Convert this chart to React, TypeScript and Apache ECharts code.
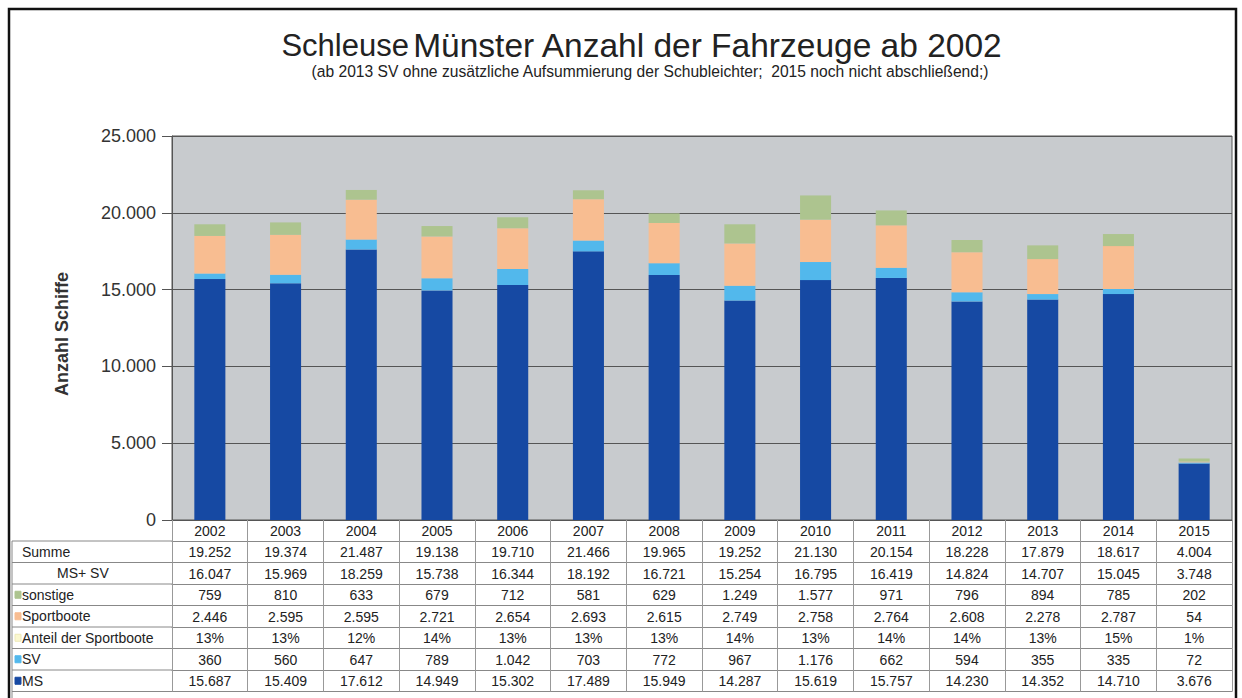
import React, { useEffect, useRef } from 'react';
import * as echarts from 'echarts';

const years = ['2002', '2003', '2004', '2005', '2006', '2007', '2008', '2009', '2010', '2011', '2012', '2013', '2014', '2015'];
const ms = [15687, 15409, 17612, 14949, 15302, 17489, 15949, 14287, 15619, 15757, 14230, 14352, 14710, 3676];
const sv = [360, 560, 647, 789, 1042, 703, 772, 967, 1176, 662, 594, 355, 335, 72];
const sportboote = [2446, 2595, 2595, 2721, 2654, 2693, 2615, 2749, 2758, 2764, 2608, 2278, 2787, 54];
const sonstige = [759, 810, 633, 679, 712, 581, 629, 1249, 1577, 971, 796, 894, 785, 202];
const anteil = [13, 13, 12, 14, 13, 13, 13, 14, 13, 14, 14, 13, 15, 1];
const summe = [19252, 19374, 21487, 19138, 19710, 21466, 19965, 19252, 21130, 20154, 18228, 17879, 18617, 4004];
const msSv = [16047, 15969, 18259, 15738, 16344, 18192, 16721, 15254, 16795, 16419, 14824, 14707, 15045, 3748];

const C_MS = '#1649a3';
const C_SV = '#52b8ec';
const C_SPORT = '#f8bd91';
const C_SONST = '#adc48f';
const C_ANTEIL = '#fbf8cf';

const fmt = (n: number) => String(n).replace(/\B(?=(\d{3})+(?!\d))/g, '.');

const tableRows = [
  { label: 'Summe', marker: null as string | null, indent: 22, values: summe.map(fmt) },
  { label: 'MS+ SV', marker: null as string | null, indent: 57, values: msSv.map(fmt) },
  { label: 'sonstige', marker: C_SONST, indent: 22, values: sonstige.map(fmt) },
  { label: 'Sportboote', marker: C_SPORT, indent: 22, values: sportboote.map(fmt) },
  { label: 'Anteil der Sportboote', marker: C_ANTEIL, indent: 22, values: anteil.map((v) => v + '%') },
  { label: 'SV', marker: C_SV, indent: 22, values: sv.map(fmt) },
  { label: 'MS', marker: C_MS, indent: 22, values: ms.map(fmt) },
];

const FONT = 'Liberation Sans, Arial, sans-serif';
const GRID_L = 172;
const GRID_R = 1232;
const GRID_T = 136;
const GRID_B = 520;
const HEAD_H = 21;
const ROW_H = 21.5;

export default function App() {
  const ref = useRef<HTMLDivElement>(null);
  useEffect(() => {
    document.body.style.margin = '0';
    const chart = echarts.init(ref.current!, undefined, { renderer: 'svg' });

    const xAxes: any[] = [
      {
        type: 'category',
        data: years,
        gridIndex: 0,
        position: 'bottom',
        offset: 0,
        axisLine: { show: true, lineStyle: { color: '#555', width: 1 } },
        axisTick: { show: true, length: HEAD_H, lineStyle: { color: '#999' } },
        axisLabel: { fontSize: 14, color: '#222', margin: 4, fontFamily: FONT },
      },
    ];
    tableRows.forEach((r, i) => {
      xAxes.push({
        type: 'category',
        data: r.values,
        gridIndex: 0,
        position: 'bottom',
        offset: HEAD_H + i * ROW_H,
        axisLine: { show: true, lineStyle: { color: '#888', width: 1 } },
        axisTick: { show: true, length: ROW_H, lineStyle: { color: '#999' } },
        axisLabel: { fontSize: 14, color: '#222', margin: 4, fontFamily: FONT, interval: 0 },
      });
    });
    xAxes.push({
      type: 'category',
      data: years.map(() => ''),
      gridIndex: 0,
      position: 'bottom',
      offset: HEAD_H + tableRows.length * ROW_H,
      axisLine: { show: true, lineStyle: { color: '#888', width: 1 } },
      axisTick: { show: false },
      axisLabel: { show: false },
    });

    const graphics: any[] = [
      {
        type: 'rect',
        shape: { x: 9, y: 9, width: 1227, height: 720 },
        style: { fill: 'none', stroke: '#111', lineWidth: 2.5 },
        silent: true,
      },
      {
        type: 'text',
        x: 642,
        y: 45,
        style: {
          text: '{a|Schleuse} {b|Münster Anzahl der Fahrzeuge ab 2002}',
          align: 'center',
          verticalAlign: 'middle',
          rich: {
            a: { fontSize: 31, fontFamily: FONT, fill: '#222' },
            b: { fontSize: 33.5, fontFamily: FONT, fill: '#222' },
          },
        },
      },
      {
        type: 'text',
        x: 650,
        y: 71,
        scaleX: 0.92,
        style: {
          text: '(ab 2013 SV ohne zusätzliche Aufsummierung der Schubleichter;  2015 noch nicht abschließend;)',
          fontSize: 17,
          fontFamily: FONT,
          fill: '#222',
          align: 'center',
          verticalAlign: 'middle',
        },
      },
      {
        type: 'text',
        x: 62,
        y: 334,
        rotation: Math.PI / 2,
        style: {
          text: 'Anzahl Schiffe',
          fontSize: 18,
          fontWeight: 'bold',
          fontFamily: FONT,
          fill: '#333',
          align: 'center',
          verticalAlign: 'middle',
        },
      },
      {
        type: 'line',
        shape: { x1: 12, y1: GRID_B + HEAD_H, x2: 12, y2: 700 },
        style: { stroke: '#888', lineWidth: 1 },
      },
    ];
    for (let i = 0; i <= tableRows.length; i++) {
      const y = GRID_B + HEAD_H + i * ROW_H;
      graphics.push({
        type: 'line',
        shape: { x1: 12, y1: y, x2: GRID_L, y2: y },
        style: { stroke: '#888', lineWidth: 1 },
      });
    }
    tableRows.forEach((r, i) => {
      const cy = GRID_B + HEAD_H + i * ROW_H + ROW_H / 2;
      if (r.marker) {
        graphics.push({
          type: 'rect',
          shape: { x: 15, y: cy - 3.5, width: 6, height: 7 },
          style: { fill: r.marker, stroke: r.marker === C_ANTEIL ? '#eee9b8' : r.marker },
        });
      }
      graphics.push({
        type: 'text',
        x: r.indent,
        y: cy,
        style: { text: r.label, fontSize: 14, fontFamily: FONT, fill: '#222', verticalAlign: 'middle', align: 'left' },
      });
    });

    const barCommon = { type: 'bar', stack: 'total', barWidth: '41%', xAxisIndex: 0, yAxisIndex: 0 };

    chart.setOption({
      animation: false,
      backgroundColor: '#ffffff',
      textStyle: { fontFamily: FONT },
      grid: {
        left: GRID_L,
        right: 1242 - GRID_R,
        top: GRID_T,
        bottom: 698 - GRID_B,
        show: true,
        backgroundColor: '#c8cbce',
        borderColor: '#555',
        borderWidth: 1,
        containLabel: false,
      },
      xAxis: xAxes,
      yAxis: {
        type: 'value',
        min: 0,
        max: 25000,
        interval: 5000,
        axisLine: { show: true, lineStyle: { color: '#555' } },
        axisTick: { show: true, length: 10, lineStyle: { color: '#555' } },
        axisLabel: { fontSize: 18, color: '#333', margin: 16, fontFamily: FONT, formatter: (v: number) => fmt(v) },
        splitLine: { show: true, lineStyle: { color: '#555', width: 1 } },
      },
      series: [
        { ...barCommon, name: 'MS', data: ms, itemStyle: { color: C_MS } },
        { ...barCommon, name: 'SV', data: sv, itemStyle: { color: C_SV } },
        { ...barCommon, name: 'Sportboote', data: sportboote, itemStyle: { color: C_SPORT } },
        { ...barCommon, name: 'sonstige', data: sonstige, itemStyle: { color: C_SONST } },
      ],
      graphic: graphics,
    });
    return () => chart.dispose();
  }, []);
  return <div ref={ref} style={{ position: 'fixed', left: 0, top: 0, width: 1242, height: 698 }} />;
}
